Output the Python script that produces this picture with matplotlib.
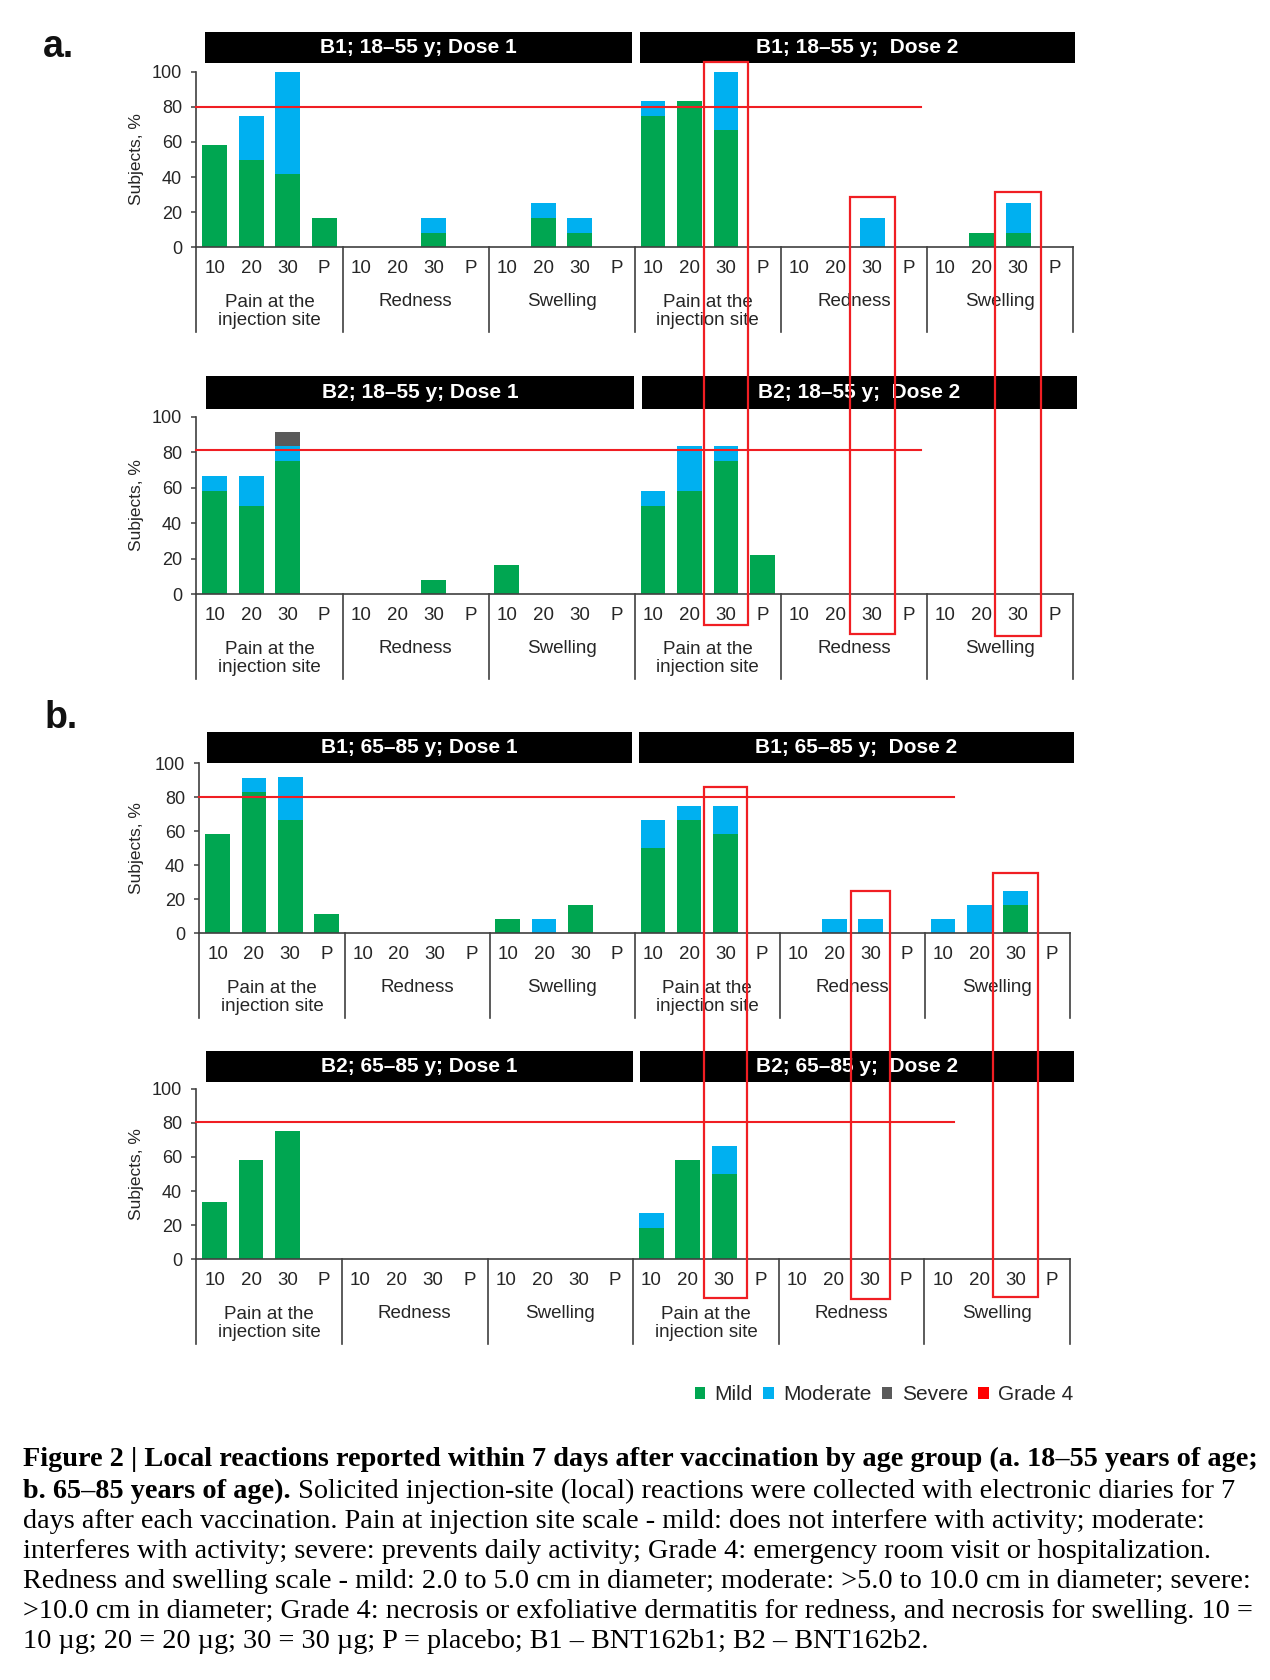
import matplotlib
matplotlib.use('Agg')
import matplotlib.pyplot as plt
from matplotlib.patches import Rectangle
from matplotlib.transforms import blended_transform_factory

plt.rcParams['font.family'] = ['Liberation Sans', 'DejaVu Sans']

W, H, DPI = 1270, 1680, 100

# ---------------- data ----------------
dose_labels = ['10', '20', '30', 'P']
categories = ['Pain at the\ninjection site', 'Redness', 'Swelling']
severity = ['Mild', 'Moderate', 'Severe', 'Grade 4']
sev_colors = ['#00A651', '#00B0F0', '#5A5A5A', '#FF0000']

panel_titles = [
    ('B1; 18–55 y; Dose 1', 'B1; 18–55 y;  Dose 2'),
    ('B2; 18–55 y; Dose 1', 'B2; 18–55 y;  Dose 2'),
    ('B1; 65–85 y; Dose 1', 'B1; 65–85 y;  Dose 2'),
    ('B2; 65–85 y; Dose 1', 'B2; 65–85 y;  Dose 2'),
]

# slot order: Dose1 pain(10,20,30,P), redness(..), swelling(..), Dose2 pain, redness, swelling
a_b1_mild     = [58.3, 50.0, 41.7, 16.7,  0, 0, 8.3, 0,  0, 16.7, 8.3, 0,
                 75.0, 83.3, 66.7, 0,     0, 0, 0, 0,    0, 8.3, 8.3, 0]
a_b1_moderate = [0, 25.0, 58.3, 0,        0, 0, 8.3, 0,  0, 8.3, 8.3, 0,
                 8.3, 0, 33.3, 0,         0, 0, 16.7, 0, 0, 0, 16.7, 0]
a_b1_severe   = [0] * 24
a_b1_grade4   = [0] * 24

a_b2_mild     = [58.3, 50.0, 75.0, 0,     0, 0, 8.3, 0,  16.7, 0, 0, 0,
                 50.0, 58.3, 75.0, 22.2,  0, 0, 0, 0,    0, 0, 0, 0]
a_b2_moderate = [8.3, 16.7, 8.3, 0,       0, 0, 0, 0,    0, 0, 0, 0,
                 8.3, 25.0, 8.3, 0,       0, 0, 0, 0,    0, 0, 0, 0]
a_b2_severe   = [0, 0, 8.3, 0] + [0] * 20
a_b2_grade4   = [0] * 24

b_b1_mild     = [58.3, 83.3, 66.7, 11.1,  0, 0, 0, 0,    8.3, 0, 16.7, 0,
                 50.0, 66.7, 58.3, 0,     0, 0, 0, 0,    0, 0, 16.7, 0]
b_b1_moderate = [0, 8.3, 25.0, 0,         0, 0, 0, 0,    0, 8.3, 0, 0,
                 16.7, 8.3, 16.7, 0,      0, 8.3, 8.3, 0, 8.3, 16.7, 8.3, 0]
b_b1_severe   = [0] * 24
b_b1_grade4   = [0] * 24

b_b2_mild     = [33.3, 58.3, 75.0, 0,     0, 0, 0, 0,    0, 0, 0, 0,
                 18.2, 58.3, 50.0, 0,     0, 0, 0, 0,    0, 0, 0, 0]
b_b2_moderate = [0, 0, 0, 0,              0, 0, 0, 0,    0, 0, 0, 0,
                 9.1, 0, 16.7, 0,         0, 0, 0, 0,    0, 0, 0, 0]
b_b2_severe   = [0] * 24
b_b2_grade4   = [0] * 24

panel_data = [
    [a_b1_mild, a_b1_moderate, a_b1_severe, a_b1_grade4],
    [a_b2_mild, a_b2_moderate, a_b2_severe, a_b2_grade4],
    [b_b1_mild, b_b1_moderate, b_b1_severe, b_b1_grade4],
    [b_b2_mild, b_b2_moderate, b_b2_severe, b_b2_grade4],
]

ref_levels = [80.0, 81.0, 80.4, 80.5]

caption_lines = [
    'Figure 2 | Local reactions reported within 7 days after vaccination by age group (a. 18–55 years of age;',
    ('b. 65–85 years of age).', ' Solicited injection-site (local) reactions were collected with electronic diaries for 7'),
    'days after each vaccination. Pain at injection site scale - mild: does not interfere with activity; moderate:',
    'interferes with activity; severe: prevents daily activity; Grade 4: emergency room visit or hospitalization.',
    'Redness and swelling scale - mild: 2.0 to 5.0 cm in diameter; moderate: >5.0 to 10.0 cm in diameter; severe:',
    '>10.0 cm in diameter; Grade 4: necrosis or exfoliative dermatitis for redness, and necrosis for swelling. 10 =',
    '10 µg; 20 = 20 µg; 30 = 30 µg; P = placebo; B1 – BNT162b1; B2 – BNT162b2.',
]

# ---------------- layout (pixels, from top) ----------------
axes_px = [  # left, right, y at 100, y at 0
    (196.4, 1073, 71.7, 247.3),
    (196.4, 1073, 416.7, 594.3),
    (199.5, 1070, 763.3, 933.3),
    (196.4, 1070, 1088.7, 1259.3),
]
title_px = [  # top, bottom, bar1 x0, x1, bar2 x0, x1
    (32, 63, 205, 632, 640, 1075),
    (376, 408.7, 206, 634, 641.7, 1076.7),
    (732, 763, 206.5, 632, 639, 1074),
    (1050.7, 1082.3, 206, 633, 640, 1074),
]
ref_end = [19.85, 19.85, 20.8, 20.8]

TXT = '#262626'
AX = '#404040'
RED = '#F01E23'

fig = plt.figure(figsize=(W / DPI, H / DPI), dpi=DPI)

axes = []
handles = None
for p in range(4):
    l, r, y100, y0 = axes_px[p]
    hpx = y0 - y100
    ax = fig.add_axes([l / W, 1 - y0 / H, (r - l) / W, hpx / H])
    axes.append(ax)
    x = [i + 0.5 for i in range(24)]
    bottom = [0.0] * 24
    conts = []
    for s in range(4):
        vals = panel_data[p][s]
        c = ax.bar(x, vals, width=0.68, bottom=bottom, color=sev_colors[s],
                   label=severity[s], linewidth=0, zorder=2)
        conts.append(c)
        bottom = [b + v for b, v in zip(bottom, vals)]
    if handles is None:
        handles = conts
    ax.set_xlim(0, 24)
    ax.set_ylim(0, 100)
    for sp in ['top', 'right']:
        ax.spines[sp].set_visible(False)
    for sp in ['left', 'bottom']:
        ax.spines[sp].set_color(AX)
        ax.spines[sp].set_linewidth(1.2)
    ax.set_yticks([0, 20, 40, 60, 80, 100])
    ax.tick_params(axis='y', direction='out', length=3.6, width=1.1, color=AX,
                   pad=6.8, labelsize=13, labelcolor=TXT)
    ax.set_xticks(x)
    ax.set_xticklabels(dose_labels * 6)
    ax.tick_params(axis='x', length=0, pad=21.5 * 72 / DPI, labelsize=13.5, labelcolor=TXT)
    for lb in ax.get_xticklabels():
        lb.set_va('center')
    ax.text((137 - l) / (r - l), 0.5, 'Subjects, %', rotation=90, ha='center',
            va='center', fontsize=12.5, color=TXT, transform=ax.transAxes)
    blend = blended_transform_factory(ax.transData, ax.transAxes)
    for g in range(7):
        ax.plot([4 * g, 4 * g], [0, -85 / hpx], color=AX, lw=1.2,
                transform=blend, clip_on=False, zorder=3)
    for g in range(6):
        cat = categories[g % 3]
        off = 64.5 if '\n' in cat else 54
        ax.annotate(cat, xy=(4 * g + 2, 0), xycoords=blend, xytext=(0, -off),
                    textcoords='offset pixels', ha='center', va='center',
                    fontsize=13.5, color=TXT, linespacing=1.1)
    # reference line
    ax.plot([0, ref_end[p]], [ref_levels[p], ref_levels[p]], color=RED, lw=1.5,
            clip_on=False, zorder=4)
    # title bars
    t0, t1, a0, a1, b0, b1 = title_px[p]
    for (x0, x1), ttl in zip([(a0, a1), (b0, b1)], panel_titles[p]):
        fig.add_artist(Rectangle((x0 / W, 1 - t1 / H), (x1 - x0) / W, (t1 - t0) / H,
                                 transform=fig.transFigure, facecolor='black',
                                 edgecolor='none'))
        fig.text((x0 + x1) / 2 / W, 1 - (t0 + t1) / 2 / H, ttl, ha='center',
                 va='center', color='white', fontsize=15, fontweight='bold')

# highlight rectangles spanning two panels
hl_slots = [14, 18, 22]
hl_sets = [
    # top panel, bottom panel, tops (data), px below bottom base, widths (slots)
    (0, 1, [105.7, 28.8, 31.7], [30.7, 39.7, 41.7], [1.23, 1.23, 1.27]),
    (2, 3, [86.0, 25.0, 35.6], [38.7, 39.7, 37.4], [1.18, 1.07, 1.22]),
]
for tp, bp, tops, below, widths in hl_sets:
    for s, tv, bl, wd in zip(hl_slots, tops, below, widths):
        xl, yt = axes[tp].transData.transform((s + 0.5 - wd / 2, tv))
        xr, _ = axes[tp].transData.transform((s + 0.5 + wd / 2, tv))
        _, yb = axes[bp].transData.transform((0, 0))
        yb -= bl
        fig.add_artist(Rectangle((xl / W, yb / H), (xr - xl) / W, (yt - yb) / H,
                                 transform=fig.transFigure, facecolor='none',
                                 edgecolor=RED, lw=1.6, zorder=10))

# panel letters
fig.text(43 / W, 1 - 57 / H, 'a.', fontsize=27, fontweight='bold', ha='left',
         va='baseline', color='#111111')
fig.text(45 / W, 1 - 728 / H, 'b.', fontsize=27, fontweight='bold', ha='left',
         va='baseline', color='#111111')

# legend
fig.legend(handles=handles, labels=severity, loc='center',
           bbox_to_anchor=(884 / W, 1 - 1395 / H), ncol=4, frameon=False,
           fontsize=15, handlelength=0.5, handleheight=0.5, handletextpad=0.45,
           columnspacing=0.5, labelcolor=TXT, borderpad=0, borderaxespad=0)

# caption
serif = ['Liberation Serif', 'DejaVu Serif']
baselines = [1466, 1498.3, 1528.3, 1558.3, 1588.3, 1617.7, 1648.3]
CAP_FS = 20.3
renderer = fig.canvas.get_renderer()
for i, (line, yb) in enumerate(zip(caption_lines, baselines)):
    yy = 1 - yb / H
    if isinstance(line, tuple):
        t = fig.text(23 / W, yy, line[0], family=serif, fontsize=CAP_FS,
                     fontweight='bold', va='baseline', ha='left', color='black')
        x1 = t.get_window_extent(renderer).x1
        fig.text(x1 / W, yy, line[1], family=serif, fontsize=CAP_FS,
                 va='baseline', ha='left', color='black')
    else:
        fig.text(23 / W, yy, line, family=serif, fontsize=CAP_FS,
                 fontweight='bold' if i == 0 else 'normal', va='baseline',
                 ha='left', color='black')

fig.savefig('out.png', dpi=DPI)
